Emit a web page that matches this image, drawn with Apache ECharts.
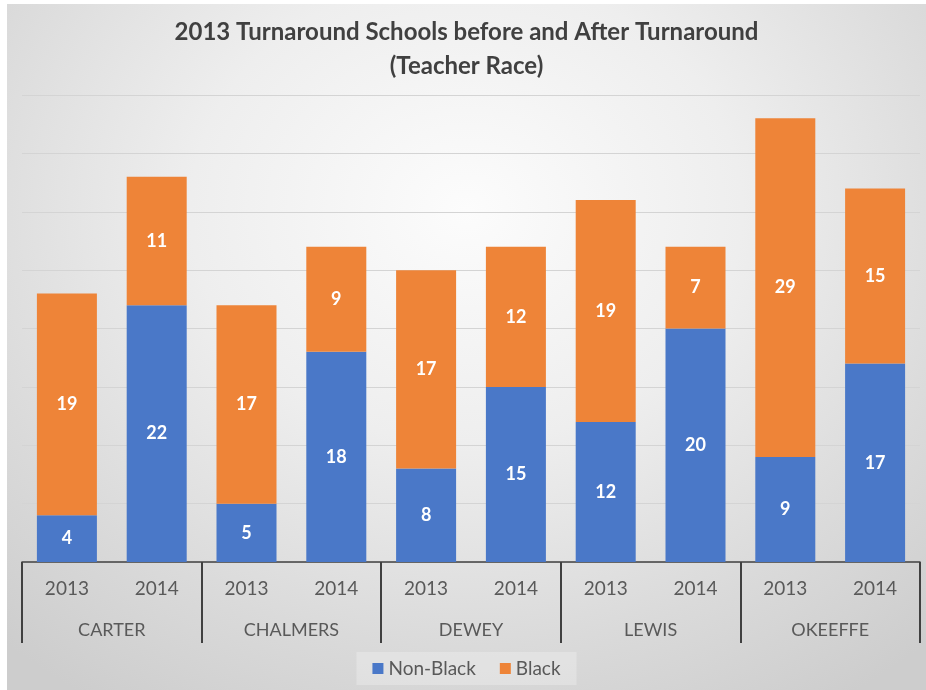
<!DOCTYPE html>
<html>
<head>
<meta charset="utf-8">
<script src="https://cdn.jsdelivr.net/npm/echarts@6/dist/echarts.min.js"></script>
<style>
html,body{margin:0;padding:0;background:#fff;}
#wrap{position:relative;width:926px;height:690px;background:#fff;overflow:hidden;}
#chart{position:absolute;left:7px;top:4px;width:919px;height:686px;
background:radial-gradient(ellipse 75% 85% at 50% 30%, #fcfcfc 0%, #eeeeee 40%, #dadada 75%, #cdcdcd 100%);}
</style>
</head>
<body>
<div id="wrap"><div id="chart"></div></div>
<script>
const years = ['2013','2014','2013','2014','2013','2014','2013','2014','2013','2014'];
const schools = ['CARTER','CHALMERS','DEWEY','LEWIS','OKEEFFE'];
const nonBlack = [4,22,5,18,8,15,12,20,9,17];
const black = [19,11,17,9,17,12,19,7,29,15];
const seriesNames = ['Non-Black','Black'];
const colors = ['#4a78c8','#ee8438'];
const FONT = 'Lato, "Open Sans", sans-serif';

const chart = echarts.init(document.getElementById('chart'));
const labelStyle = {show:true, position:'inside', color:'#ffffff', fontWeight:'bold', fontSize:18, fontFamily:FONT};
chart.setOption({
  animation:false,
  textStyle:{fontFamily:FONT},
  title:{
    text:'2013 Turnaround Schools before and After Turnaround\n(Teacher Race)',
    left:'center', top:6,
    textStyle:{fontSize:24, fontWeight:'bold', color:'#404040', lineHeight:34, fontFamily:FONT}
  },
  legend:{
    data:seriesNames, bottom:5, left:'center',
    itemWidth:11, itemHeight:11, itemGap:24, icon:'rect',
    backgroundColor:'rgba(255,255,255,0.25)', padding:[7,16],
    textStyle:{fontSize:19, color:'#595959', fontFamily:FONT}
  },
  grid:{left:15, right:6, top:91, bottom:128, containLabel:false},
  xAxis:[
    {type:'category', data:years, position:'bottom',
     axisLine:{show:true, lineStyle:{color:'#404040', width:1.5}},
     axisTick:{show:false},
     axisLabel:{fontSize:19, color:'#595959', margin:17, interval:0}},
    {type:'category', data:schools, position:'bottom',
     axisLine:{show:false},
     axisTick:{show:true, length:81, interval:0, lineStyle:{color:'#404040', width:2}},
     axisLabel:{fontSize:18, color:'#595959', margin:59, interval:0}}
  ],
  yAxis:{type:'value', min:0, max:40, interval:5,
    axisLabel:{show:false}, axisLine:{show:false}, axisTick:{show:false},
    splitLine:{lineStyle:{color:'#d4d4d4', width:1}}},
  series:[
    {name:seriesNames[0], type:'bar', stack:'t', data:nonBlack, barWidth:60, xAxisIndex:0,
     itemStyle:{color:colors[0]}, label:labelStyle},
    {name:seriesNames[1], type:'bar', stack:'t', data:black, barWidth:60, xAxisIndex:0,
     itemStyle:{color:colors[1]}, label:labelStyle}
  ]
});
</script>
</body>
</html>
